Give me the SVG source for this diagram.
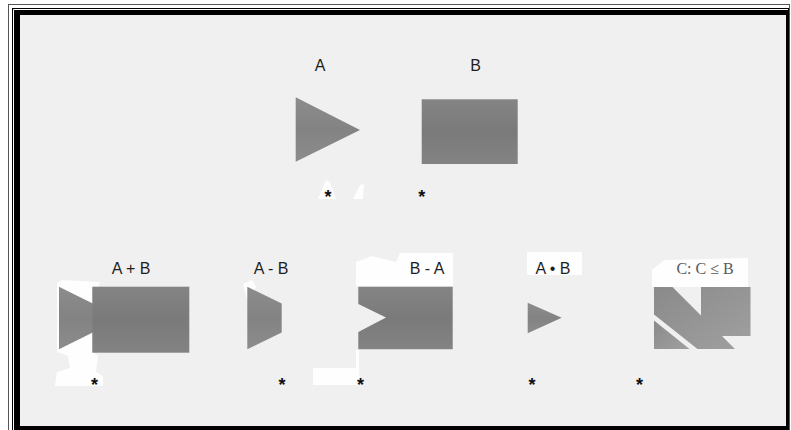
<svg xmlns="http://www.w3.org/2000/svg" width="791" height="430" viewBox="0 0 791 430">
  <style>
    .lbl { font-family: "Liberation Sans", Arial, sans-serif; font-size: 16px; fill: #1e1e1e; text-anchor: middle; }
    .lblc { font-family: "Liberation Serif", "Times New Roman", serif; font-size: 16px; fill: #5a5a5a; text-anchor: middle; }
    .ast { font-family: "Liberation Sans", Arial, sans-serif; font-size: 18px; font-weight: bold; fill: #111; text-anchor: middle; }
    .shpA { fill: url(#gA); }
    .shpB { fill: url(#gB); }
    .patch { fill: #ffffff; opacity: 0.9; }
  </style>
  <defs>
    <linearGradient id="gA" x1="0" y1="0" x2="0" y2="1">
      <stop offset="0" stop-color="#8c8c8c"/>
      <stop offset="0.5" stop-color="#838383"/>
      <stop offset="1" stop-color="#8c8c8c"/>
    </linearGradient>
    <linearGradient id="gB" x1="0" y1="0" x2="0" y2="1">
      <stop offset="0" stop-color="#848484"/>
      <stop offset="0.5" stop-color="#7a7a7a"/>
      <stop offset="1" stop-color="#838383"/>
    </linearGradient>
    <linearGradient id="gC" x1="0" y1="0" x2="1" y2="1">
      <stop offset="0" stop-color="#8a8a8a"/>
      <stop offset="1" stop-color="#a0a0a0"/>
    </linearGradient>
  </defs>

  <!-- frame -->
  <rect x="0" y="0" width="791" height="430" fill="#ffffff"/>
  <rect x="8.5" y="4.5" width="781" height="430" fill="none" stroke="#555" stroke-width="1"/>
  <rect x="12" y="8" width="777" height="423" fill="#000"/>
  <path d="M13.5,431 V9.5 H788" fill="none" stroke="#fff" stroke-width="1"/>
  <rect x="20" y="15" width="766" height="411" fill="#f0f0f0"/>

  <!-- scan white patches -->
  <g id="patches">
    <path class="patch" d="M57,283 L62,280 L100,282 L98,288 L92,290 L92,352 L98,356 L96,372 L103,376 L103,386 L55,386 L57,372 L70,368 L68,356 L57,352 Z"/>
    <path class="patch" d="M243,284 L252,280 L256,287 L247,300 Z"/>
    <path class="patch" d="M356,286 L356,262 L372,256 L396,262 L400,253 L453,253 L453,286 Z"/>
    <path class="patch" d="M356,350 L359,350 L359,368 L360,385 L313,385 L313,368 L356,368 Z"/>
    <rect class="patch" x="527" y="252" width="55" height="23"/>
    <path class="patch" d="M652,270 L664,260 L748,258 L748,287 L652,287 Z"/>
    <path class="patch" d="M318,199 L326,180 L330,182 L336,199 Z"/>
    <path class="patch" d="M353,199 L360,185 L364,184 L363,199 Z"/>
  </g>

  <!-- top row -->
  <g id="A">
    <text class="lbl" x="320" y="71">A</text>
    <polygon class="shpA" points="295.7,97.3 360,130 295.7,161.7"/>
    <text class="ast" x="328" y="202.5">*</text>
  </g>
  <g id="B">
    <text class="lbl" x="475.5" y="71">B</text>
    <rect class="shpB" x="421.7" y="99.3" width="96" height="64.7"/>
    <text class="ast" x="421.7" y="202.5">*</text>
  </g>

  <!-- bottom row -->
  <g id="AplusB">
    <text class="lbl" x="131" y="273.5">A + B</text>
    <polygon class="shpA" points="59,286.7 122,318 59,349.3"/>
    <rect class="shpB" x="92.3" y="286.7" width="97" height="66"/>
    <text class="ast" x="94.5" y="391">*</text>
  </g>
  <g id="AminusB">
    <text class="lbl" x="271" y="273.5">A - B</text>
    <polygon class="shpA" points="247.3,286.7 281.7,303.5 281.7,332.5 247.3,349.3"/>
    <text class="ast" x="282" y="391">*</text>
  </g>
  <g id="BminusA">
    <text class="lbl" x="427" y="273.5">B - A</text>
    <path class="shpB" d="M358.3,286.7 H452.7 V349.3 H358.3 V332 L386,317.5 L358.3,304 Z"/>
    <text class="ast" x="360.5" y="391">*</text>
  </g>
  <g id="AandB">
    <text class="lbl" x="553" y="273.5">A • B</text>
    <polygon class="shpA" points="527.7,302.7 561.7,317.7 527.7,333.3"/>
    <text class="ast" x="532" y="391">*</text>
  </g>
  <g id="C">
    <text class="lblc" x="705" y="273.5">C: C ≤ B</text>
    <path fill="url(#gC)" d="M654,287 H672.5 L701,315.5 V287 H750.5 V336 H722 L735,349 H697.5 L654,314.5 Z"/>
    <polygon fill="url(#gC)" points="654,320.5 689.5,349 654,349"/>
    <text class="ast" x="639.5" y="391">*</text>
  </g>
</svg>
